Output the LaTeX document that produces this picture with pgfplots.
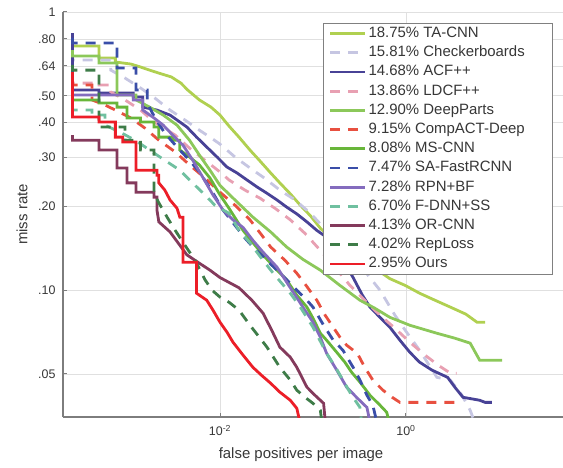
\documentclass[border=0pt]{standalone}
\usepackage{fontspec}
\setmainfont{Liberation Sans}
\usepackage{pgfplots}
\pgfplotsset{compat=1.18}
\definecolor{cTA}{RGB}{176,208,80}
\definecolor{cCheck}{RGB}{198,198,226}
\definecolor{cACF}{RGB}{72,66,150}
\definecolor{cLDCF}{RGB}{232,160,178}
\definecolor{cDeep}{RGB}{140,200,90}
\definecolor{cComp}{RGB}{232,80,64}
\definecolor{cMS}{RGB}{104,182,58}
\definecolor{cSA}{RGB}{58,78,168}
\definecolor{cRPN}{RGB}{132,108,190}
\definecolor{cFDNN}{RGB}{112,192,160}
\definecolor{cOR}{RGB}{132,58,92}
\definecolor{cRep}{RGB}{62,124,72}
\definecolor{cOurs}{RGB}{236,30,40}
\definecolor{axgray}{RGB}{125,125,125}
\definecolor{txtgray}{RGB}{55,55,55}
\begin{document}
\begin{tikzpicture}[x=1bp,y=1bp]
\useasboundingbox (0,0) rectangle (563,468);
\begin{axis}[
  at={(63bp,51bp)}, anchor=south west,
  scale only axis, width=500bp, height=405bp,
  xmode=log, ymode=log,
  xmin=2.05e-4, xmax=48.8, ymin=0.035, ymax=1,
  xtick={0.01,1}, xticklabels={10\textsuperscript{-2},10\textsuperscript{0}},
  ytick={0.05,0.1,0.2,0.3,0.4,0.5,0.64,0.8,1},
  yticklabels={.05,.10,.20,.30,.40,.50,.64,.80,1},
  minor xtick={}, minor ytick={},
  axis x line*=bottom, axis y line*=left,
  axis line style={draw=axgray, line width=1.2bp},
  tick style={draw=axgray, line width=1bp},
  tick align=inside, major tick length=4bp,
  grid=major, major grid style={draw=black!12, line width=0.8bp},
  tick label style={font=\fontsize{12.5}{14}\selectfont, text=txtgray},
  xticklabel style={yshift=-5bp},
  yticklabel style={xshift=-4bp},
  xlabel={false positives per image},
  ylabel={miss rate},
  every axis x label/.style={at={(axis description cs:0.476,0)}, anchor=north, yshift=-30bp, inner sep=0pt, font=\fontsize{15}{17}\selectfont, text=txtgray},
  every axis y label/.style={at={(axis description cs:-0.082,0.5)}, rotate=90, anchor=center, inner sep=0pt, font=\fontsize{15}{17}\selectfont, text=txtgray},
  every axis plot/.append style={no marks, line width=2.8bp},
  legend cell align=left,
  legend image code/.code={\draw[#1] (0bp,0bp) -- (35bp,0bp); \path (37bp,0bp);},
  legend style={at={(0.98,0.9728)}, anchor=north east, draw=black!50, line width=0.8bp,
    fill=white, font=\fontsize{15}{17}\selectfont, text=txtgray,
    inner xsep=5bp, inner ysep=3bp, row sep=4.7bp,
    nodes={inner sep=0pt, text height=11bp, text depth=3.5bp}},
]
\addplot[cTA] coordinates {(2.6e-4,0.840) (2.6e-4,0.755) (5e-4,0.755) (5e-4,0.683) (7.5e-4,0.683) (7.5e-4,0.661) (1.1e-3,0.650) (1.4e-3,0.634) (1.75e-3,0.618) (2.2e-3,0.603) (3e-3,0.584) (3.8e-3,0.555) (4.5e-3,0.524) (6e-3,0.483) (8e-3,0.455) (0.01,0.426) (0.0125,0.389) (0.016,0.355) (0.021,0.319) (0.027,0.291) (0.035,0.264) (0.044,0.243) (0.057,0.222) (0.073,0.202) (0.094,0.185) (0.12,0.167) (0.155,0.154) (0.22,0.142) (0.32,0.130) (0.46,0.120) (0.67,0.110) (0.98,0.104) (1.4,0.0975) (2.05,0.092) (3,0.0869) (4.4,0.082) (5.8,0.0767) (7.1,0.0767)};
\addlegendentry{\makebox[179bp][l]{18.75\% TA-CNN}}
\addplot[cCheck, dash pattern=on 10bp off 8bp] coordinates {(2.6e-4,0.718) (2.6e-4,0.672) (6.7e-4,0.672) (6.7e-4,0.618) (9.5e-4,0.579) (1.4e-3,0.533) (2e-3,0.490) (2.9e-3,0.444) (4.2e-3,0.409) (6e-3,0.376) (7.8e-3,0.355) (0.01,0.335) (0.0145,0.301) (0.021,0.275) (0.03,0.253) (0.044,0.229) (0.064,0.211) (0.094,0.189) (0.13,0.168) (0.195,0.145) (0.32,0.123) (0.525,0.100) (0.76,0.0813) (0.98,0.0718) (1.4,0.0608) (2.15,0.0486) (3,0.0475) (4,0.0419) (4.9,0.0370) (6.2,0.03)};
\addlegendentry{15.81\% Checkerboards}
\addplot[cACF] coordinates {(2.6e-4,0.840) (2.6e-4,0.524) (5e-4,0.524) (5e-4,0.511) (1.17e-3,0.511) (1.17e-3,0.495) (1.48e-3,0.495) (1.48e-3,0.455) (2.1e-3,0.444) (2.9e-3,0.426) (3.45e-3,0.409) (4.4e-3,0.386) (5.6e-3,0.355) (7.2e-3,0.327) (9.3e-3,0.301) (0.0119,0.277) (0.0152,0.264) (0.0195,0.249) (0.025,0.235) (0.032,0.223) (0.041,0.211) (0.052,0.199) (0.067,0.188) (0.086,0.176) (0.11,0.164) (0.14,0.155) (0.195,0.134) (0.27,0.111) (0.34,0.0959) (0.41,0.0869) (0.525,0.0799) (0.67,0.0736) (0.86,0.0661) (1.1,0.0598) (1.4,0.0551) (1.9,0.0516) (2.8,0.0486) (3.35,0.0448) (4.1,0.0412) (6.2,0.0402) (7.1,0.0395) (8.4,0.0395)};
\addlegendentry{14.68\% ACF++}
\addplot[cLDCF, dash pattern=on 10bp off 8bp] coordinates {(2.6e-4,0.593) (2.6e-4,0.555) (5e-4,0.555) (5e-4,0.546) (6.7e-4,0.546) (6.7e-4,0.516) (9.5e-4,0.483) (1.4e-3,0.444) (1.75e-3,0.416) (2.2e-3,0.392) (3.3e-3,0.361) (4.7e-3,0.324) (6.9e-3,0.293) (0.01,0.266) (0.0125,0.249) (0.0185,0.229) (0.027,0.214) (0.039,0.197) (0.057,0.179) (0.082,0.160) (0.12,0.139) (0.175,0.120) (0.25,0.104) (0.36,0.092) (0.525,0.0813) (0.76,0.0730) (1.1,0.0650) (1.6,0.0584) (2.3,0.0533) (3,0.0503) (3.5,0.0503)};
\addlegendentry{13.86\% LDCF++}
\addplot[cDeep] coordinates {(2.6e-4,0.730) (2.6e-4,0.695) (5e-4,0.695) (5e-4,0.656) (7.8e-4,0.656) (7.8e-4,0.503) (1.25e-3,0.503) (1.25e-3,0.483) (1.75e-3,0.455) (2.45e-3,0.426) (3.45e-3,0.392) (4.7e-3,0.346) (6e-3,0.306) (7.8e-3,0.270) (0.01,0.238) (0.0145,0.211) (0.0226,0.183) (0.035,0.162) (0.052,0.143) (0.078,0.129) (0.12,0.118) (0.195,0.104) (0.32,0.092) (0.46,0.0862) (0.67,0.0799) (1.1,0.0748) (2.15,0.0700) (3.35,0.0672) (4.9,0.0645) (6.2,0.0560) (10.8,0.0560)};
\addlegendentry{12.90\% DeepParts}
\addplot[cComp, dash pattern=on 10bp off 8bp] coordinates {(2.6e-4,0.569) (2.6e-4,0.546) (4.2e-4,0.546) (4.2e-4,0.483) (5.8e-4,0.463) (7.5e-4,0.444) (1.1e-3,0.416) (1.55e-3,0.383) (2.2e-3,0.346) (3.3e-3,0.314) (4.7e-3,0.282) (6.9e-3,0.253) (0.01,0.225) (0.0145,0.202) (0.021,0.179) (0.028,0.158) (0.035,0.143) (0.05,0.128) (0.067,0.115) (0.086,0.103) (0.11,0.092) (0.135,0.0813) (0.165,0.0736) (0.195,0.0677) (0.23,0.0634) (0.3,0.0593) (0.36,0.0528) (0.44,0.0475) (0.565,0.0437) (0.71,0.0412) (0.86,0.0395) (3.5,0.0395)};
\addlegendentry{9.15\% CompACT-Deep}
\addplot[cMS] coordinates {(2.6e-4,0.503) (2.6e-4,0.483) (5e-4,0.483) (5e-4,0.471) (7.8e-4,0.471) (7.8e-4,0.455) (1e-3,0.455) (1e-3,0.416) (1.4e-3,0.416) (1.4e-3,0.402) (1.95e-3,0.402) (1.95e-3,0.386) (2.2e-3,0.386) (2.2e-3,0.355) (3.1e-3,0.355) (3.1e-3,0.346) (3.7e-3,0.346) (3.7e-3,0.319) (4.7e-3,0.301) (6e-3,0.282) (7.8e-3,0.253) (0.01,0.220) (0.0125,0.197) (0.0177,0.164) (0.0238,0.145) (0.029,0.134) (0.039,0.120) (0.052,0.109) (0.067,0.0959) (0.086,0.0869) (0.1,0.0793) (0.12,0.0700) (0.14,0.0661) (0.18,0.0598) (0.22,0.0551) (0.26,0.0507) (0.32,0.0467) (0.41,0.0419) (0.525,0.0386) (0.62,0.0364) (0.72,0.03)};
\addlegendentry{8.08\% MS-CNN}
\addplot[cSA, dash pattern=on 10bp off 8bp] coordinates {(2.6e-4,0.806) (2.6e-4,0.774) (7.8e-4,0.774) (7.8e-4,0.629) (1.25e-3,0.629) (1.25e-3,0.524) (1.65e-3,0.524) (1.65e-3,0.471) (2e-3,0.416) (2.55e-3,0.367) (3.45e-3,0.327) (4.7e-3,0.293) (6e-3,0.266) (7.8e-3,0.233) (0.0108,0.194) (0.0145,0.171) (0.0185,0.154) (0.0226,0.143) (0.0305,0.130) (0.041,0.118) (0.052,0.109) (0.067,0.100) (0.086,0.092) (0.1,0.0869) (0.13,0.0748) (0.165,0.0661) (0.21,0.0608) (0.27,0.0528) (0.32,0.0475) (0.38,0.0419) (0.44,0.0386) (0.525,0.03)};
\addlegendentry{7.47\% SA-FastRCNN}
\addplot[cRPN] coordinates {(2.6e-4,0.533) (2.6e-4,0.503) (1.17e-3,0.503) (1.17e-3,0.483) (1.48e-3,0.483) (1.48e-3,0.444) (1.95e-3,0.416) (2.45e-3,0.392) (3.1e-3,0.361) (4e-3,0.332) (5.1e-3,0.293) (6.6e-3,0.253) (8.4e-3,0.220) (0.0108,0.194) (0.0138,0.179) (0.0177,0.168) (0.0226,0.151) (0.029,0.137) (0.041,0.121) (0.057,0.102) (0.078,0.0869) (0.1,0.0767) (0.12,0.0677) (0.14,0.0593) (0.18,0.0516) (0.23,0.0448) (0.3,0.0409) (0.38,0.0379) (0.44,0.03)};
\addlegendentry{7.28\% RPN+BF}
\addplot[cFDNN, dash pattern=on 10bp off 8bp] coordinates {(2.6e-4,0.463) (2.6e-4,0.444) (4.2e-4,0.444) (4.2e-4,0.426) (5.8e-4,0.426) (5.8e-4,0.392) (8.4e-4,0.370) (1.22e-3,0.346) (1.75e-3,0.319) (2.55e-3,0.293) (3.7e-3,0.270) (5.4e-3,0.238) (6.9e-3,0.220) (8.8e-3,0.202) (0.0125,0.189) (0.016,0.164) (0.021,0.148) (0.029,0.128) (0.039,0.113) (0.057,0.0975) (0.073,0.0869) (0.1,0.0736) (0.14,0.0593) (0.175,0.0528) (0.21,0.0475) (0.26,0.0419) (0.32,0.0379) (0.345,0.03)};
\addlegendentry{6.70\% F-DNN+SS}
\addplot[cOR] coordinates {(2.6e-4,0.361) (2.6e-4,0.346) (5e-4,0.346) (5e-4,0.319) (7.8e-4,0.319) (7.8e-4,0.275) (1e-3,0.275) (1e-3,0.243) (1.25e-3,0.243) (1.25e-3,0.225) (1.95e-3,0.225) (1.95e-3,0.216) (2.1e-3,0.216) (2.1e-3,0.194) (2.2e-3,0.176) (2.9e-3,0.162) (3.7e-3,0.145) (4.4e-3,0.134) (6e-3,0.125) (7.8e-3,0.118) (0.01,0.111) (0.016,0.102) (0.022,0.092) (0.029,0.0827) (0.036,0.0718) (0.044,0.0624) (0.057,0.0574) (0.067,0.0528) (0.086,0.0448) (0.105,0.0419) (0.13,0.0392) (0.14,0.03)};
\addlegendentry{4.13\% OR-CNN}
\addplot[cRep, dash pattern=on 10bp off 8bp] coordinates {(2.6e-4,0.645) (2.6e-4,0.618) (5e-4,0.618) (5e-4,0.386) (9.5e-4,0.386) (9.5e-4,0.346) (1.4e-3,0.346) (1.4e-3,0.319) (1.95e-3,0.319) (1.95e-3,0.223) (2.2e-3,0.206) (2.7e-3,0.183) (3.3e-3,0.164) (4.2e-3,0.145) (5.4e-3,0.128) (6.9e-3,0.109) (8.2e-3,0.100) (0.01,0.0944) (0.0125,0.0905) (0.016,0.0848) (0.021,0.0748) (0.027,0.0672) (0.032,0.0624) (0.044,0.0528) (0.057,0.0475) (0.067,0.0437) (0.082,0.0412) (0.1,0.0392) (0.12,0.0370) (0.13,0.03)};
\addlegendentry{4.02\% RepLoss}
\addplot[cOurs] coordinates {(2.6e-4,0.608) (2.6e-4,0.419) (5e-4,0.419) (5e-4,0.402) (7.5e-4,0.402) (7.5e-4,0.355) (9e-4,0.355) (9e-4,0.341) (1.25e-3,0.341) (1.25e-3,0.270) (2.1e-3,0.270) (2.1e-3,0.259) (2.2e-3,0.259) (2.2e-3,0.243) (2.55e-3,0.229) (2.9e-3,0.211) (3.45e-3,0.197) (3.7e-3,0.183) (4e-3,0.183) (4e-3,0.126) (5.6e-3,0.126) (5.6e-3,0.0975) (7.2e-3,0.092) (8.4e-3,0.0848) (0.01,0.0767) (0.0119,0.0706) (0.0138,0.0650) (0.0177,0.0584) (0.0226,0.0528) (0.028,0.0494) (0.035,0.0463) (0.044,0.0430) (0.057,0.0402) (0.067,0.0376) (0.078,0.03)};
\addlegendentry{2.95\% Ours}
\end{axis}
\end{tikzpicture}
\end{document}
